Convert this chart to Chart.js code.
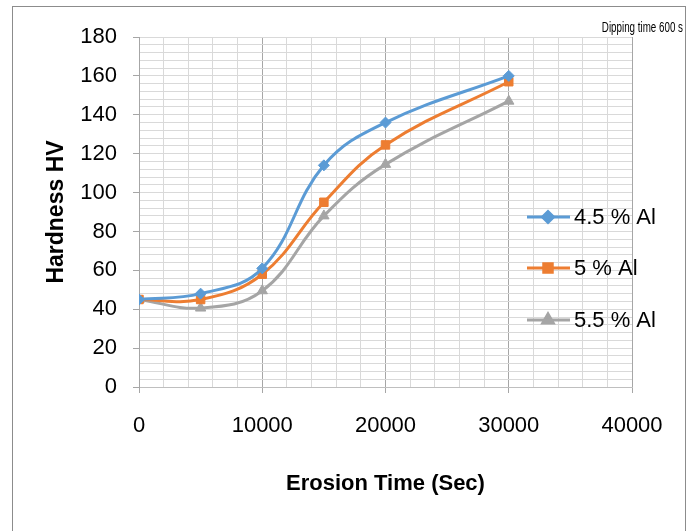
<!DOCTYPE html>
<html>
<head>
<meta charset="utf-8">
<script src="https://cdn.jsdelivr.net/npm/chart.js@4.4.1/dist/chart.umd.min.js"></script>
<style>
  body { margin: 0; background: #fff; }
  #wrap { width: 700px; height: 531px; }
</style>
</head>
<body>
<div id="wrap"><canvas id="chart" width="700" height="531"></canvas></div>
<script>
var erosion_time = [0, 5000, 10000, 15000, 20000, 30000];
var al_45 = [45, 48, 61, 114, 136, 160];
var al_5 = [45, 45, 58, 95, 124.5, 157];
var al_55 = [45, 40.6, 49.5, 88, 114.5, 147];
var series_names = ['4.5 % Al', '5 % Al', '5.5 % Al'];
var note_text = 'Dipping time 600 s';

var fnt = '"Liberation Sans Narrow", "Liberation Sans", Arial, sans-serif';

function pts(ys) {
    return erosion_time.map(function (x, i) { return { x: x, y: ys[i] }; });
}

// outer frame, the note text and the legend drawn over the plot
const extras = {
    id: 'extras',
    afterDraw(chart) {
        const c = chart.ctx;
        c.save();
        c.strokeStyle = '#8c8c8c';
        c.lineWidth = 1;
        c.strokeRect(12.5, 6.5, 673, 530);

        // condensed note at top right
        c.save();
        c.translate(683, 32);
        c.scale(0.7, 1);
        c.fillStyle = '#000';
        c.font = '14px ' + fnt;
        c.textAlign = 'right';
        c.textBaseline = 'alphabetic';
        c.fillText(note_text, 0, 0);
        c.restore();

        const rows = [217, 268, 320];
        chart.data.datasets.forEach(function (ds, i) {
            const y = rows[i];
            c.strokeStyle = ds.borderColor;
            c.lineWidth = 3;
            c.beginPath();
            c.moveTo(527, y);
            c.lineTo(570, y);
            c.stroke();
            c.fillStyle = ds.borderColor;
            c.strokeStyle = ds.borderColor;
            c.beginPath();
            Chart.helpers.drawPoint(c, {
                pointStyle: ds.pointStyle, radius: ds.pointRadius, borderWidth: 1
            }, 548, y);
            c.fillStyle = '#000';
            c.font = '22px ' + fnt;
            c.textAlign = 'left';
            c.textBaseline = 'middle';
            c.fillText(ds.label, 574, y + 1);
        });
        c.restore();
    }
};

const ctx = document.getElementById('chart').getContext('2d');
const hardnessChart = new Chart(ctx, {
    type: 'line',
    data: {
        datasets: [{
            label: series_names[0],
            data: pts(al_45),
            borderColor: '#5b9bd5',
            backgroundColor: '#5b9bd5',
            pointStyle: 'rectRot',
            pointRadius: 5.5
        }, {
            label: series_names[1],
            data: pts(al_5),
            borderColor: '#ed7d31',
            backgroundColor: '#ed7d31',
            pointStyle: 'rect',
            pointRadius: 6
        }, {
            label: series_names[2],
            data: pts(al_55),
            borderColor: '#a5a5a5',
            backgroundColor: '#a5a5a5',
            pointStyle: 'triangle',
            pointRadius: 6
        }]
    },
    options: {
        responsive: false,
        animation: false,
        layout: { padding: { left: 0, top: 37, right: 68, bottom: 0 } },
        elements: {
            line: { borderWidth: 3, tension: 0.4 },
            point: { borderWidth: 1 }
        },
        plugins: {
            legend: { display: false },
            tooltip: { enabled: false }
        },
        scales: {
            x: {
                type: 'linear',
                min: 0,
                max: 40000,
                afterFit: function (s) { s.height = 144; },
                border: { color: '#bfbfbf' },
                grid: {
                    tickLength: 6,
                    color: function (c) { return c.tick && c.tick.value % 10000 === 0 ? '#a6a6a6' : '#d9d9d9'; },
                    tickColor: function (c) { return c.tick && c.tick.value % 10000 === 0 ? '#a6a6a6' : 'rgba(0,0,0,0)'; }
                },
                ticks: {
                    stepSize: 2000,
                    autoSkip: false,
                    maxRotation: 0,
                    padding: 20,
                    color: '#000',
                    font: { family: fnt, size: 22 },
                    callback: function (v) { return v % 10000 === 0 ? String(v) : ''; }
                },
                title: {
                    display: true,
                    text: 'Erosion Time (Sec)',
                    color: '#000',
                    font: { family: fnt, size: 22, weight: 'bold' },
                    padding: { top: 0, bottom: 34 }
                }
            },
            y: {
                min: 0,
                max: 180,
                afterFit: function (s) { s.width = 139; },
                border: { color: '#a6a6a6' },
                grid: {
                    tickLength: 6,
                    color: '#d9d9d9',
                    tickColor: function (c) { return c.tick && c.tick.value % 20 === 0 ? '#a6a6a6' : 'rgba(0,0,0,0)'; }
                },
                ticks: {
                    stepSize: 4,
                    autoSkip: false,
                    padding: 16,
                    color: '#000',
                    font: { family: fnt, size: 22 },
                    callback: function (v) { return v % 20 === 0 ? String(v) : ''; }
                },
                title: {
                    display: true,
                    text: 'Hardness HV',
                    color: '#000',
                    font: { family: fnt, size: 23, weight: 'bold' },
                    padding: { top: 43, bottom: 0 }
                }
            }
        }
    },
    plugins: [extras]
});
</script>
</body>
</html>
